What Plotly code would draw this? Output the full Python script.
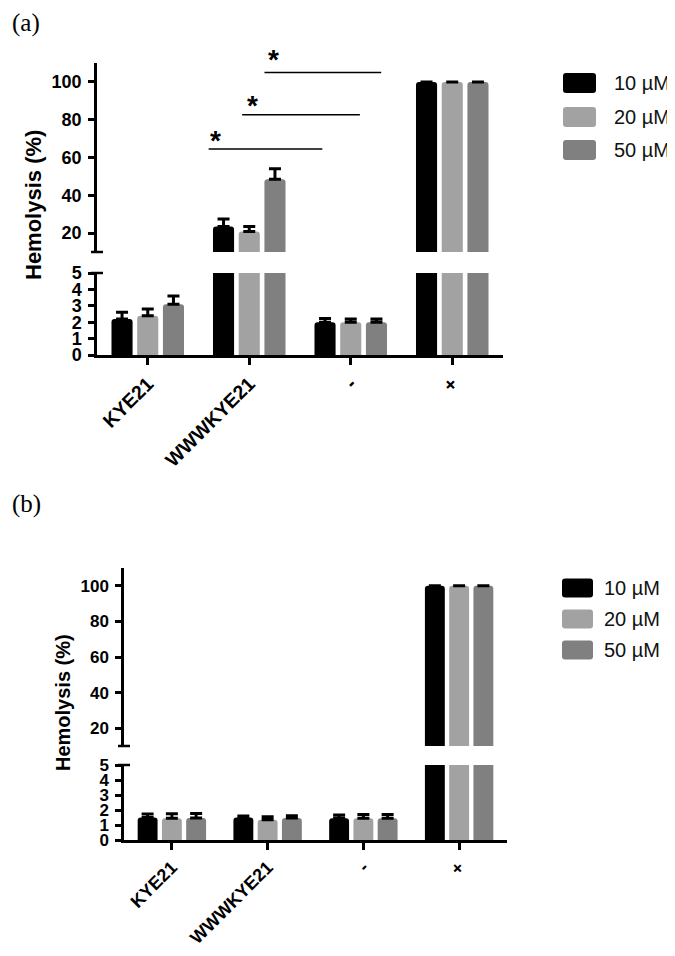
import plotly.graph_objects as go

# The page body has an 8px margin, so the figure is made 16px smaller and
# reference pixel positions are shifted by 8px.
OFF = 8
W, H = 675 - OFF, 956 - 2 * OFF

# ---------------- data ----------------
categories = ["KYE21", "WWWKYE21", "-", "+"]
series_names = ["10 µM", "20 µM", "50 µM"]
colors = ["#000000", "#a2a2a2", "#808080"]

# panel (a)
a_10 = [2.2, 23.5, 2.0, 100]
a_20 = [2.4, 20.8, 2.0, 100]
a_50 = [3.1, 48.5, 2.0, 100]
a_10_err = [0.4, 4.0, 0.22, None]
a_20_err = [0.4, 2.7, 0.2, None]
a_50_err = [0.5, 5.5, 0.2, None]

# panel (b)
b_10 = [1.5, 1.5, 1.45, 100]
b_20 = [1.45, 1.35, 1.45, 100]
b_50 = [1.47, 1.47, 1.45, 100]
b_10_err = [0.23, 0.1, 0.22, None]
b_20_err = [0.3, 0.2, 0.25, None]
b_50_err = [0.3, 0.15, 0.25, None]

upper_range = [10, 110]
lower_range = [0, 5]
upper_ticks = [20, 40, 60, 80, 100]
lower_ticks = [0, 1, 2, 3, 4, 5]

# significance brackets in panel (a): (x start, x end, y of line, star x, star y)
sig_a = [
    (0.60, 1.72, 64.5, 0.67, 72.0),
    (0.93, 2.09, 82.6, 1.03, 90.5),
    (1.15, 2.30, 105.0, 1.24, 115.0),
]


def px_x(p):
    return (p - OFF) / W


def px_y(p):
    return 1 - (p - OFF) / H


panels = [
    dict(label="(a)", vals=[a_10, a_20, a_50], errs=[a_10_err, a_20_err, a_50_err],
         xdom=(97, 503), low=(273, 355), up=(63, 252), ax=("x", "y", "x2", "y2"),
         fs=18, xfs=19.5, title_x=33, title_y=205, title_fs=22, label_y=23,
         leg_x=(563, 596), leg_rows=[83, 117, 150], leg_tx=612, leg_h=20),
    dict(label="(b)", vals=[b_10, b_20, b_50], errs=[b_10_err, b_20_err, b_50_err],
         xdom=(124, 507), low=(765, 840), up=(568, 746), ax=("x3", "y3", "x4", "y4"),
         fs=17, xfs=18, title_x=63, title_y=703, title_fs=20, label_y=504,
         leg_x=(562, 593), leg_rows=[588, 619, 650], leg_tx=602, leg_h=19),
]

FONT = "Liberation Sans, Arial"

fig = go.Figure()
layout = dict(
    width=W, height=H, margin=dict(l=0, r=0, t=0, b=0, autoexpand=False),
    paper_bgcolor="white", plot_bgcolor="white",
    barmode="group", bargap=0.24, bargroupgap=0.18, barcornerradius=3,
    showlegend=False,
    font=dict(family=FONT, color="black"),
)
shapes = []
annotations = []


def rounded_rect(x0, y0, x1, y1, r):
    rx, ry = r / W, r / H
    X0, X1 = px_x(x0), px_x(x1)
    Y0, Y1 = px_y(y1), px_y(y0)
    return (f"M {X0+rx},{Y0} L {X1-rx},{Y0} Q {X1},{Y0} {X1},{Y0+ry} "
            f"L {X1},{Y1-ry} Q {X1},{Y1} {X1-rx},{Y1} L {X0+rx},{Y1} "
            f"Q {X0},{Y1} {X0},{Y1-ry} L {X0},{Y0+ry} Q {X0},{Y0} {X0+rx},{Y0} Z")


upper_dom_a = None
for p in panels:
    xl, yl, xu, yu = p["ax"]
    for i, name in enumerate(series_names):
        for (xa, ya) in [(xl, yl), (xu, yu)]:
            fig.add_trace(go.Bar(
                x=categories, y=p["vals"][i], name=name,
                marker=dict(color=colors[i], line=dict(width=0)),
                offsetgroup=str(i),
                error_y=dict(type="data", array=p["errs"][i],
                             arrayminus=[0 if e is not None else None for e in p["errs"][i]],
                             symmetric=False,
                             color="black", thickness=3, width=6),
                xaxis=xa, yaxis=ya, showlegend=False, hoverinfo="skip",
            ))
    xdom = [px_x(p["xdom"][0]), px_x(p["xdom"][1])]
    ldom = [px_y(p["low"][1]), px_y(p["low"][0])]
    udom = [px_y(p["up"][1]), px_y(p["up"][0])]
    if p["label"] == "(a)":
        upper_dom_a = udom
    tickfont = dict(family=FONT, size=p["fs"], color="black", weight="bold")
    xtickfont = dict(family=FONT, size=p["xfs"], color="black", weight="bold")
    common_y = dict(showline=True, linecolor="black", linewidth=2.5,
                    ticks="outside", ticklen=6, tickwidth=2.5, tickcolor="black",
                    tickfont=tickfont, showgrid=False, zeroline=False,
                    ticklabelstandoff=3, automargin=False)
    layout["xaxis" + xl[1:]] = dict(
        domain=xdom, anchor=yl, range=[-0.5, 3.5], type="category",
        showline=True, linecolor="black", linewidth=2.5,
        ticks="outside", ticklen=7, tickwidth=2.5, tickcolor="black",
        tickangle=-45, tickfont=xtickfont, showgrid=False, zeroline=False,
        automargin=False,
    )
    layout["xaxis" + xu[1:]] = dict(
        domain=xdom, anchor=yu, matches=xl, type="category", visible=False,
        range=[-0.5, 3.5], automargin=False,
    )
    layout["yaxis" + yl[1:]] = dict(domain=ldom, anchor=xl, range=lower_range,
                                    tickvals=lower_ticks, **common_y)
    layout["yaxis" + yu[1:]] = dict(domain=udom, anchor=xu, range=upper_range,
                                    tickvals=upper_ticks, **common_y)
    # break caps
    ax_px = p["xdom"][0]
    for ypx in [p["up"][1], p["low"][0]]:
        shapes.append(dict(type="line", xref="paper", yref="paper",
                           x0=px_x(ax_px - 6), x1=px_x(ax_px + 6),
                           y0=px_y(ypx), y1=px_y(ypx),
                           line=dict(color="black", width=2.5)))
    # y title
    annotations.append(dict(
        text="<b>Hemolysis (%)</b>", textangle=-90, xref="paper", yref="paper",
        x=px_x(p["title_x"]), y=px_y(p["title_y"]), showarrow=False,
        xanchor="center", yanchor="middle",
        font=dict(family=FONT, size=p["title_fs"], color="black")))
    # panel label
    annotations.append(dict(
        text=p["label"], xref="paper", yref="paper", x=px_x(OFF + 2), y=px_y(p["label_y"]),
        xanchor="left", yanchor="middle", showarrow=False,
        font=dict(family="Liberation Serif, Times New Roman", size=25, color="black")))
    # manual legend
    for i, name in enumerate(series_names):
        yc = p["leg_rows"][i]
        h2 = p["leg_h"] / 2
        shapes.append(dict(type="path", xref="paper", yref="paper",
                           path=rounded_rect(p["leg_x"][0], yc - h2, p["leg_x"][1], yc + h2, 3),
                           fillcolor=colors[i], line=dict(width=0)))
        annotations.append(dict(
            text=name, xref="paper", yref="paper", x=px_x(p["leg_tx"]), y=px_y(yc),
            xanchor="left", yanchor="middle", showarrow=False,
            font=dict(family=FONT, size=20, color="#111111")))


def upper_a_to_paper(v):
    f = (v - upper_range[0]) / (upper_range[1] - upper_range[0])
    return upper_dom_a[0] + f * (upper_dom_a[1] - upper_dom_a[0])


# significance brackets (panel a, upper axis)
for (x0, x1, yv, sx, sy) in sig_a:
    shapes.append(dict(type="line", xref="x2", yref="y2", x0=x0, x1=x1, y0=yv, y1=yv,
                       line=dict(color="black", width=1.5)))
    annotations.append(dict(text="<b>*</b>", xref="x2", yref="paper", x=sx,
                            y=upper_a_to_paper(sy),
                            showarrow=False, xanchor="center", yanchor="middle", yshift=-6,
                            font=dict(family=FONT, size=28, color="black")))

layout["shapes"] = shapes
layout["annotations"] = annotations
fig.update_layout(**layout)

fig.write_html("out.html")
